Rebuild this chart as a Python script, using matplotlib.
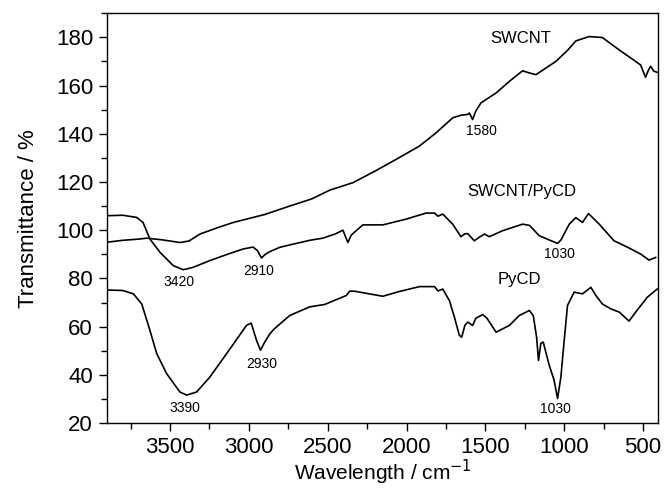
import matplotlib
matplotlib.use('Agg')
import matplotlib.pyplot as plt
from matplotlib.ticker import MultipleLocator

plt.rcParams['font.family'] = ['Liberation Sans', 'DejaVu Sans']

# wavenumber (cm-1) and transmittance (%)
swcnt_x = [3900, 3800, 3700, 3647, 3550, 3437, 3380, 3310, 3200, 3099, 2900, 2741, 2600, 2487,
           2340, 2200, 2065, 1918, 1812, 1707, 1654, 1612, 1601, 1581, 1560, 1528, 1432,
           1348, 1264, 1220, 1179, 1053, 980, 926, 842, 758, 652, 547, 515, 484, 465, 452, 431, 410]
swcnt_y = [95, 95.8, 96.3, 96.7, 96.0, 94.9, 95.5, 98.4, 101, 103.2, 106.5, 110, 113, 116.6,
           119.7, 124.5, 129.4, 134.9, 140.4, 146.6, 147.7, 148, 148.6, 145.9, 149.5, 152.8, 156.9,
           161.7, 166.1, 165.2, 164.5, 170, 174.5, 178.5, 180.3, 179.9, 174.8, 170, 168.5, 163.4, 166.5, 168, 165.9, 165.5]

mix_x = [3900, 3800, 3711, 3671, 3627, 3563, 3479, 3416, 3353, 3247, 3136, 3036, 2973, 2945,
         2920, 2895, 2870, 2804, 2700, 2614, 2530, 2450, 2403, 2385, 2372, 2350, 2319, 2277,
         2150, 2002, 1876, 1823, 1800, 1770, 1707, 1655, 1630, 1612, 1570, 1540, 1506, 1475,
         1390, 1264, 1220, 1158, 1060, 1042, 1020, 968, 926, 884, 846, 778, 684, 600, 515, 462, 420]
mix_y = [106, 106.2, 105.3, 103.2, 96.3, 90.8, 85.3, 83.6, 84.6, 87.4, 90, 92.2, 93, 91.5,
         88.5, 90, 91, 92.9, 94.5, 95.8, 96.7, 98.5, 100, 97, 94.9, 98, 99.8, 102.2,
         102.2, 104.6, 107.1, 107.1, 105.8, 106.7, 102.5, 97.3, 98.5, 98.6, 95.6, 97, 98.4, 97.3,
         99.8, 102.5, 102, 97.7, 95, 94.5, 96, 102.5, 105.2, 103.2, 106.9, 102.5, 95.6, 93, 90.1, 87.6, 88.7]

pycd_x = [3900, 3800, 3732, 3679, 3627, 3584, 3521, 3437, 3394, 3331, 3247, 3141, 3015, 2985,
          2951, 2926, 2900, 2867, 2840, 2741, 2614, 2519, 2382, 2361, 2330, 2150, 2050, 1918,
          1823, 1800, 1770, 1728, 1696, 1665, 1650, 1630, 1612, 1581, 1560, 1517, 1490, 1432,
          1348, 1285, 1221, 1196, 1175, 1163, 1148, 1133, 1115, 1095, 1065, 1042, 1021, 1000,
          979, 937, 884, 831, 800, 758, 705, 650, 589, 547, 473, 410]
pycd_y = [75.2, 75, 73.6, 69.4, 58.4, 48.8, 40.5, 32.9, 31.6, 32.9, 39.1, 48.8, 60.5, 61.5,
          54.3, 50.2, 53.5, 57, 59, 64.6, 68.2, 69.2, 72.9, 74.7, 74.7, 72.6, 74.5, 76.6,
          76.6, 74.8, 75.6, 70.8, 63.9, 56.4, 55.6, 60.5, 61.9, 60.5, 63.5, 65, 63.5, 57.7,
          60.5, 64.6, 66.7, 64.6, 55.6, 46, 53.1, 53.6, 49, 44, 38, 30.2, 39.1, 54.3,
          68.8, 74.3, 73.6, 76.3, 73, 69.4, 67.4, 66, 62.3, 66, 72.2, 75.6]

# curve names and peak labels
names = ['SWCNT', 'SWCNT/PyCD', 'PyCD']
name_pos = [(1275, 179.3), (1270, 116), (1285, 79.5)]
peaks = ['1580', '3420', '2910', '1030', '3390', '2930', '1030']
peak_pos = [(1528, 141), (3443, 78.4), (2937, 83.2), (1032, 90.1),
            (3408, 26.3), (2921, 44.7), (1054, 25.8)]

fig = plt.figure(figsize=(6.64, 4.88), dpi=100)
ax = fig.add_axes([0.161, 0.133, 0.830, 0.840])

for xs, ys in [(swcnt_x, swcnt_y), (mix_x, mix_y), (pycd_x, pycd_y)]:
    ax.plot(xs, ys, color='black', linewidth=1.2)

for t, (px, py) in zip(names, name_pos):
    ax.text(px, py, t, fontsize=12, ha='center', va='center')
for t, (px, py) in zip(peaks, peak_pos):
    ax.text(px, py, t, fontsize=10, ha='center', va='center')

ax.set_xlim(3900, 405)
ax.set_ylim(20, 190)
ax.set_xticks([3500, 3000, 2500, 2000, 1500, 1000, 500])
ax.set_yticks([20, 40, 60, 80, 100, 120, 140, 160, 180])
ax.xaxis.set_minor_locator(MultipleLocator(250))
ax.yaxis.set_minor_locator(MultipleLocator(10))
ax.tick_params(which='both', direction='out', top=False, right=False, labelsize=16, width=1)
ax.tick_params(which='major', length=6, pad=4)
ax.tick_params(which='minor', length=4)
for s in ax.spines.values():
    s.set_linewidth(1)

ax.set_xlabel('Wavelength / cm$^{-1}$', fontsize=15, labelpad=0)
ax.set_ylabel('Transmittance / %', fontsize=16, labelpad=12)

fig.savefig('out.png', dpi=100)
